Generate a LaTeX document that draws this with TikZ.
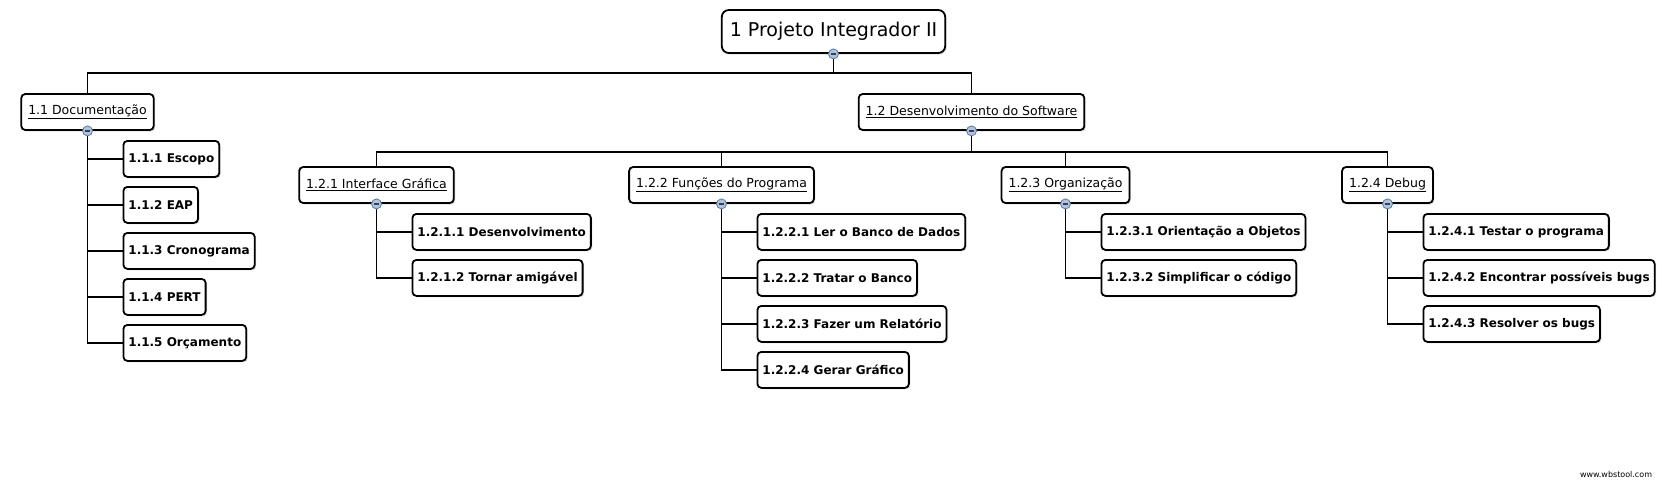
\documentclass[tikz,border=0pt]{standalone}
\usepackage{fontspec}
\setmainfont{DejaVu Sans}
\usetikzlibrary{calc,shadows}

\definecolor{btnline}{RGB}{95,120,160}
\definecolor{btnfill}{RGB}{175,195,220}
\definecolor{btnmark}{RGB}{55,65,85}

% one column of work packages under a parent box
% #1 = name of the parent, #2 = texts of its children
\newcommand{\subtasks}[2]{%
  \foreach \t [count=\i] in {#2} {
    \node[leaf] (#1-\i) at ($(#1.south)+(35,{28+46*(\i-1)})$) {\t};
    \draw[link] (#1.south) |- (#1-\i.west);
  }%
}

\begin{document}
\begin{tikzpicture}[x=1pt,y=-1pt,
    box/.style={draw=black,line width=1.8pt,rounded corners=4pt,fill=white,
                minimum height=36pt,inner xsep=5pt,inner ysep=0pt,
                drop shadow={shadow xshift=1.5pt,shadow yshift=-1.5pt,opacity=0.25}},
    topbox/.style={box,rounded corners=7pt,minimum height=43pt,inner xsep=8pt,
                   font=\fontsize{19}{22}\selectfont},
    group/.style={box,inner xsep=7pt,font=\fontsize{12.5}{15}\selectfont},
    leaf/.style={box,anchor=west,font=\fontsize{12}{14}\selectfont\bfseries},
    link/.style={line width=1.9pt},
    toggle/.style={circle,inner sep=0pt,minimum size=10pt,line width=0.8pt,
                   draw=btnline,fill=btnfill,
                   path picture={\draw[line width=1.3pt,btnmark]
                     ([xshift=-2.6pt]path picture bounding box.center) --
                     ([xshift=2.6pt]path picture bounding box.center);}},
  ]
  \useasboundingbox (0,0) rectangle (1669,483);

  % ---------------------------------------------------------------- levels 0-2
  \node[topbox] (root) at (833.5,31.5) {1 Projeto Integrador II};

  \node[group] (doc) at (87.5,112)  {\underline{1.1 Documentação}};
  \node[group] (dev) at (971.5,112) {\underline{1.2 Desenvolvimento do Software}};

  \node[group] (gui)  at (376.5,185)  {\underline{1.2.1 Interface Gráfica}};
  \node[group] (func) at (721.5,185)  {\underline{1.2.2 Funções do Programa}};
  \node[group] (org)  at (1065.5,185) {\underline{1.2.3 Organização}};
  \node[group] (dbg)  at (1387.5,185) {\underline{1.2.4 Debug}};

  \foreach \p in {doc,dev}
    \draw[link] (root.south) -- ++(0,19) -| (\p.north);
  \foreach \p in {gui,func,org,dbg}
    \draw[link] (dev.south) -- ++(0,21) -| (\p.north);

  % ---------------------------------------------------------------- leaves
  \subtasks{doc}{1.1.1 Escopo, 1.1.2 EAP, 1.1.3 Cronograma, 1.1.4 PERT, 1.1.5 Orçamento}
  \subtasks{gui}{1.2.1.1 Desenvolvimento, 1.2.1.2 Tornar amigável}
  \subtasks{func}{1.2.2.1 Ler o Banco de Dados, 1.2.2.2 Tratar o Banco,
                  1.2.2.3 Fazer um Relatório, 1.2.2.4 Gerar Gráfico}
  \subtasks{org}{1.2.3.1 Orientação a Objetos, 1.2.3.2 Simplificar o código}
  \subtasks{dbg}{1.2.4.1 Testar o programa, 1.2.4.2 Encontrar possíveis bugs,
                 1.2.4.3 Resolver os bugs}

  % collapse buttons
  \foreach \p in {root,doc,dev,gui,func,org,dbg}
    \node[toggle] (t-\p) at (\p.south) {};

  \node[font=\fontsize{8}{10}\selectfont] (site) at (1616,475) {www.wbstool.com};
\end{tikzpicture}
\end{document}
